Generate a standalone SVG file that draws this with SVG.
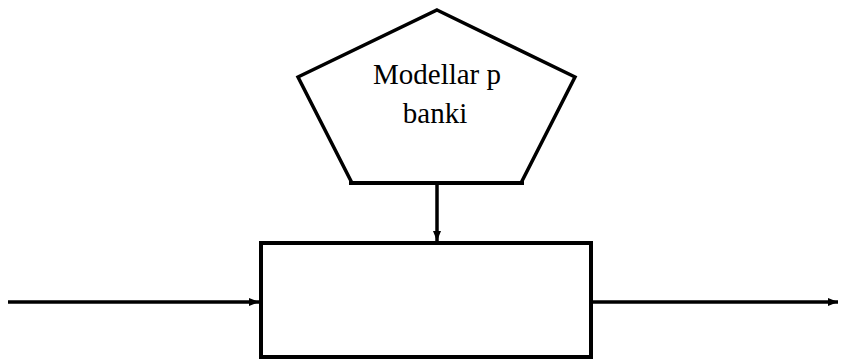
<svg xmlns="http://www.w3.org/2000/svg" width="842" height="361" viewBox="0 0 842 361">
<defs>
<style>
.shape{fill:#fff;stroke:#000;stroke-linejoin:miter}
.conn{stroke:#000;stroke-width:3.5;fill:none}
.lbl{font-family:"Liberation Serif","Times New Roman",serif;font-size:29px;fill:#000;text-anchor:middle}
</style>
<marker id="ah" viewBox="0 0 10 10" refX="10" refY="5" markerWidth="3" markerHeight="3" orient="auto" markerUnits="strokeWidth">
<path d="M0,1 L10,5 L0,9 z" fill="#000"/>
</marker>
</defs>
<rect width="842" height="361" fill="#fff"/>
<g id="connectors">
<line class="conn" x1="437" y1="183" x2="437" y2="241" marker-end="url(#ah)"/>
<line class="conn" x1="8" y1="302" x2="259" y2="302" marker-end="url(#ah)"/>
<line class="conn" x1="593" y1="302" x2="838" y2="302" marker-end="url(#ah)"/>
</g>
<g id="pentagon">
<polygon class="shape" stroke-width="3.5" points="437,10 575,77 521,183 352,183 298,77"/>
<line x1="349" y1="183" x2="524" y2="183" stroke="#000" stroke-width="4"/>
<text class="lbl" x="437" y="84">Modellar p</text>
<text class="lbl" x="435" y="123">banki</text>
</g>
<g id="box">
<rect class="shape" stroke-width="4" x="261" y="243" width="330" height="114"/>
</g>
</svg>
